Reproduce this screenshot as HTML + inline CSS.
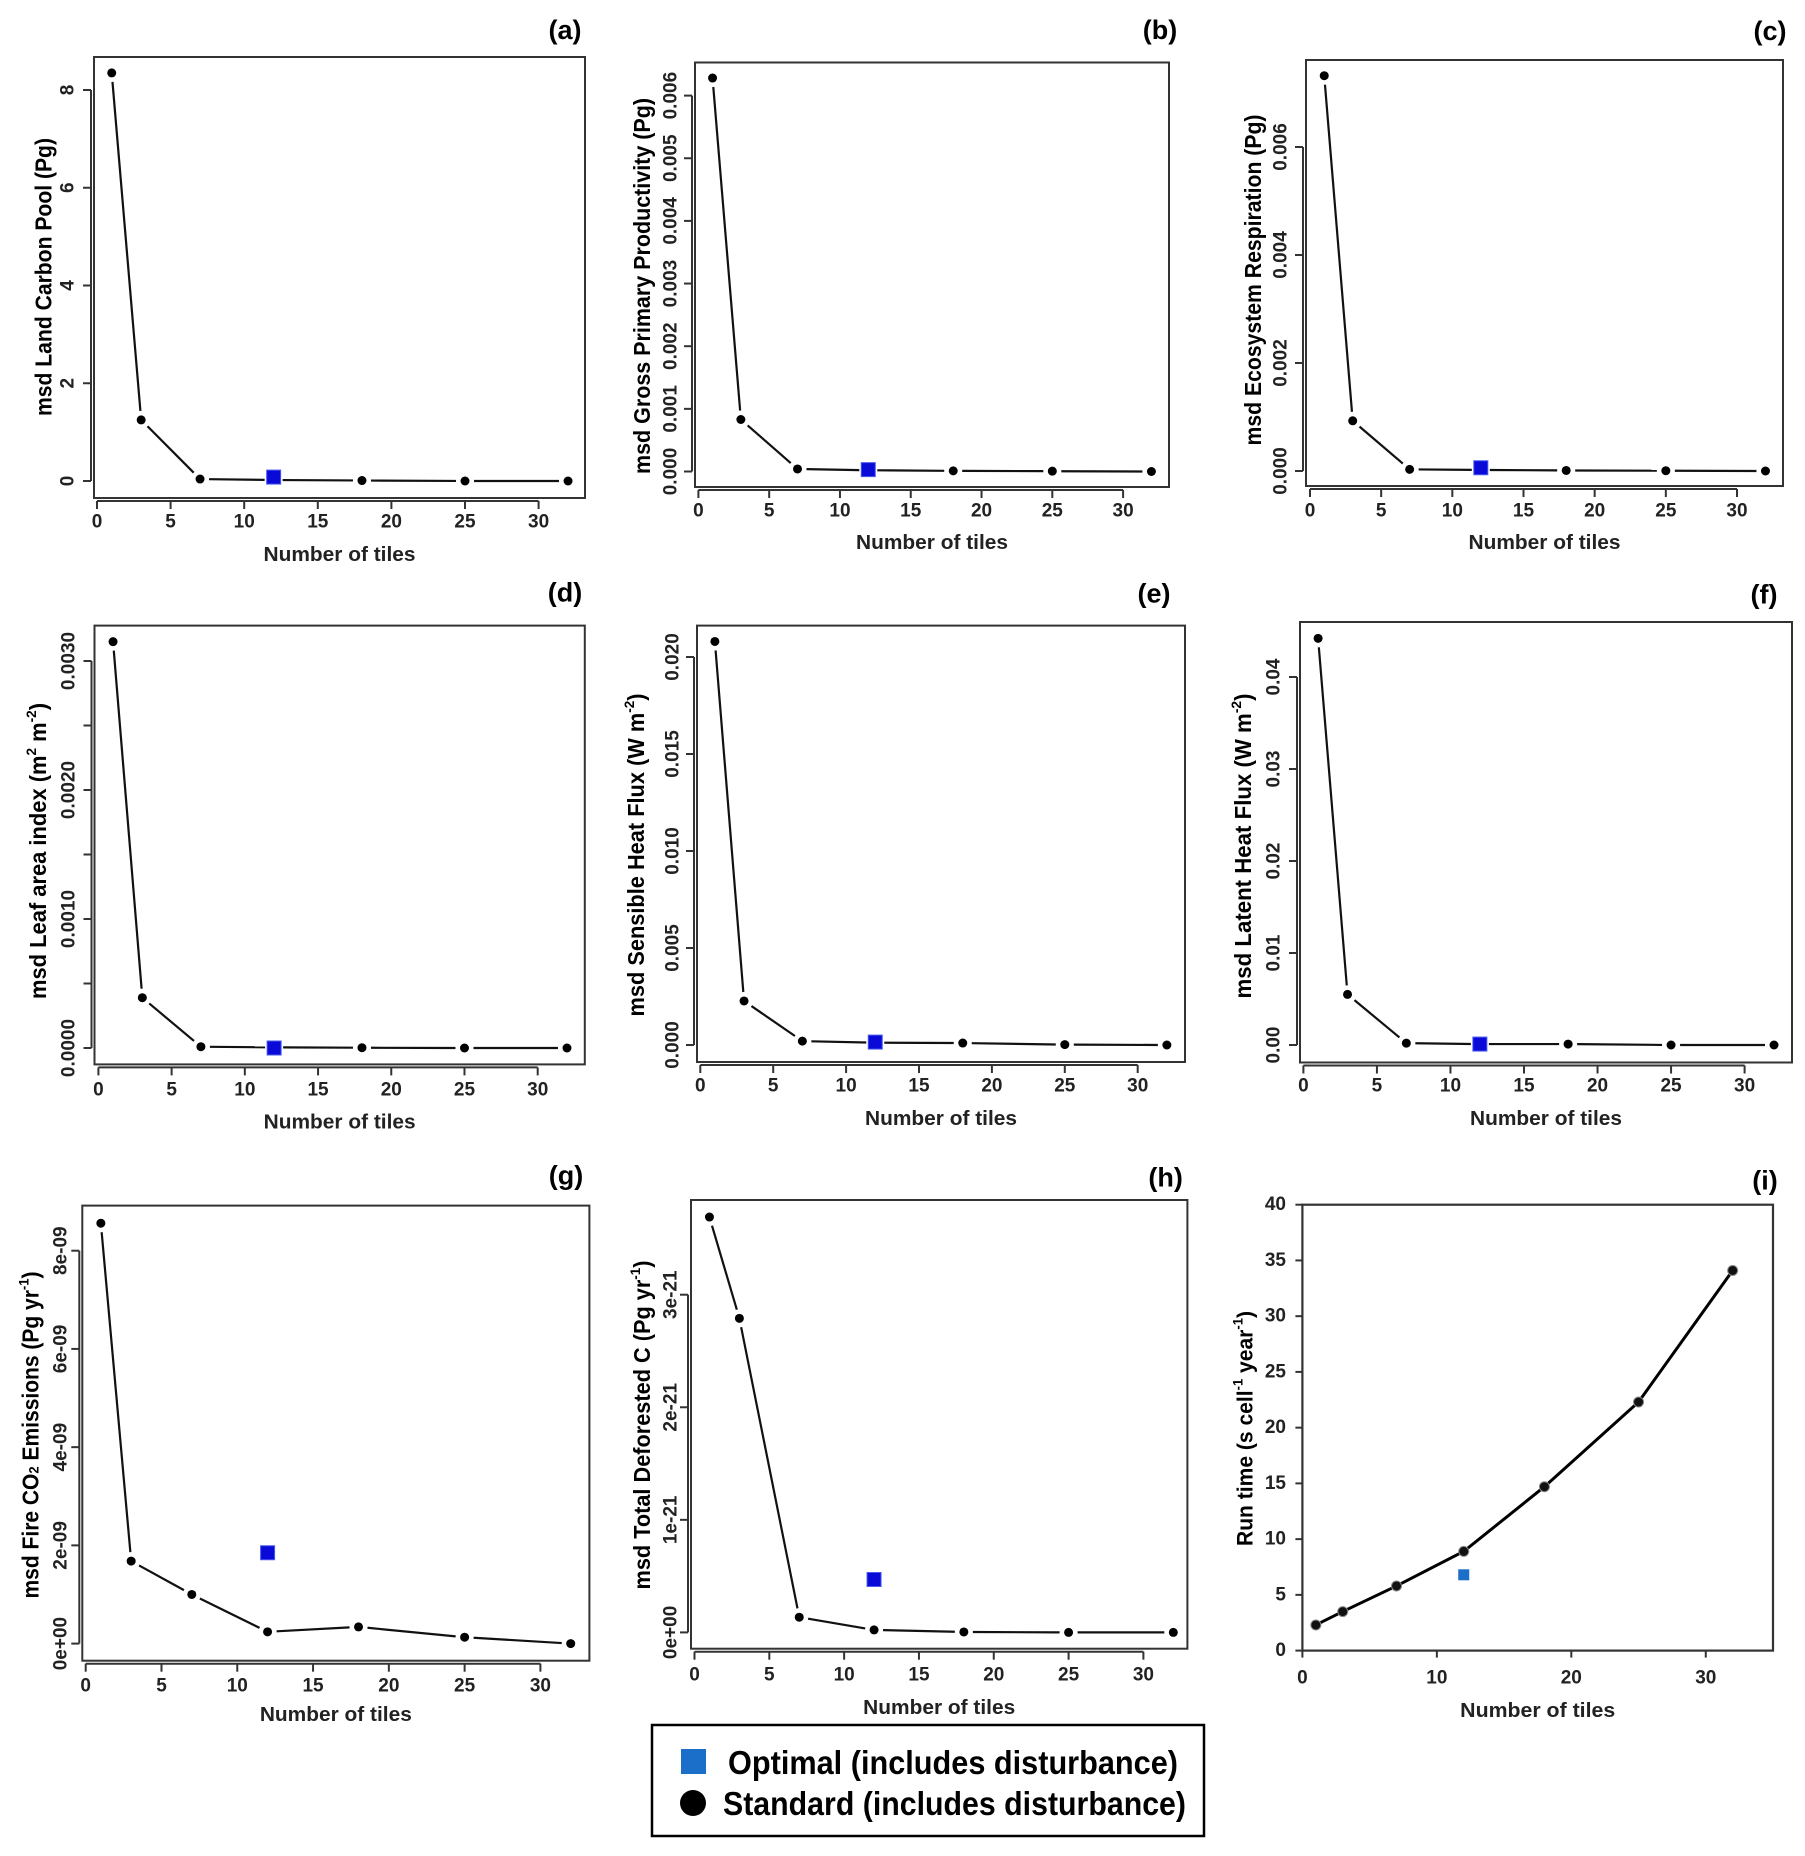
<!DOCTYPE html>
<html><head><meta charset="utf-8">
<style>
html,body{margin:0;padding:0;background:#fff;}
svg{display:block;font-family:"Liberation Sans",sans-serif;}
</style></head>
<body>
<svg id="fig" width="1805" height="1856" viewBox="0 0 1805 1856" xmlns="http://www.w3.org/2000/svg">
  <g id="legend">
    <rect x="652" y="1725" width="552" height="111" fill="#fff" stroke="#000" stroke-width="2.5"/>
    <rect x="681" y="1749" width="25" height="25" fill="#1b6fc8"/>
    <text x="728" y="1774" font-size="33" font-weight="bold" textLength="450" lengthAdjust="spacingAndGlyphs">Optimal (includes disturbance)</text>
    <circle cx="693" cy="1803" r="13" fill="#000"/>
    <text x="723" y="1815" font-size="33" font-weight="bold" textLength="463" lengthAdjust="spacingAndGlyphs">Standard (includes disturbance)</text>
  </g>
</svg>
<script>
// ---- data (x = number of tiles) ----
const tiles = [1, 3, 7, 12, 18, 25, 32];
const optTile = 12;
const aStd = [8.35, 1.25, 0.04, 0.02, 0.01, 0.0, 0.0];
const aOpt = 0.08;
const bStd = [6.28, 0.83, 0.04, 0.02, 0.01, 0.005, 0.0];   // x 1e-3
const bOpt = 0.03;
const cStd = [7.32, 0.93, 0.03, 0.02, 0.01, 0.005, 0.0];   // x 1e-3
const cOpt = 0.06;
const dStd = [31.5, 3.9, 0.1, 0.05, 0.02, 0.0, 0.0];       // x 1e-4
const dOpt = 0.0;
const eStd = [20.8, 2.27, 0.2, 0.12, 0.1, 0.02, 0.0];      // x 1e-3
const eOpt = 0.15;
const fStd = [4.42, 0.55, 0.02, 0.01, 0.01, 0.0, 0.0];     // x 1e-2
const fOpt = 0.01;
const gStd = [8.56, 1.68, 1.0, 0.24, 0.34, 0.13, 0.0];     // x 1e-9
const gOpt = 1.85;
const hStd = [3.69, 2.79, 0.135, 0.022, 0.004, 0.0, 0.0];  // x 1e-21
const hOpt = 0.47;
const iStd = [2.3, 3.5, 5.8, 8.9, 14.7, 22.3, 34.1];
const iOpt = 6.8;
// ---- tick values / labels ----
const xTicksR = [0, 5, 10, 15, 20, 25, 30];
const aTicks = [0, 2, 4, 6, 8];        const aLabels = ["0","2","4","6","8"];
const bTicks = [0,1,2,3,4,5,6];        const bLabels = ["0.000","0.001","0.002","0.003","0.004","0.005","0.006"];
const cTicks = [0,2,4,6];              const cLabels = ["0.000","0.002","0.004","0.006"];
const dTicks = [0,5,10,15,20,25,30];   const dLabels = ["0.0000","","0.0010","","0.0020","","0.0030"];
const eTicks = [0,5,10,15,20];         const eLabels = ["0.000","0.005","0.010","0.015","0.020"];
const fTicks = [0,1,2,3,4];            const fLabels = ["0.00","0.01","0.02","0.03","0.04"];
const gTicks = [0,2,4,6,8];            const gLabels = ["0e+00","2e-09","4e-09","6e-09","8e-09"];
const hTicks = [0,1,2,3];              const hLabels = ["0e+00","1e-21","2e-21","3e-21"];
const iYTicks = [0,5,10,15,20,25,30,35,40];
const iXTicks = [0,10,20,30];

const NS = "http://www.w3.org/2000/svg";
const svg = document.getElementById("fig");
function mk(tag, attrs, parent) {
  const el = document.createElementNS(NS, tag);
  for (const k in attrs) el.setAttribute(k, attrs[k]);
  (parent || svg).appendChild(el);
  return el;
}

const panels = [
 {id:"a", std:aStd, opt:aOpt, ticks:aTicks, labels:aLabels,
  box:[94,57,585,498], x0:97, x30:538.6, y0:481, yT:8, yTpx:90,
  ylabX:43.5, ylabY:277, ylabLen:278, tickLabX:68, tickLabY:522, xlabY:555,
  title:[565,30], ylab:["msd Land Carbon Pool (Pg)"]},
 {id:"b", std:bStd, opt:bOpt, ticks:bTicks, labels:bLabels,
  box:[695,62.5,1169,487], x0:698.4, x30:1123.1, y0:471.5, yT:6, yTpx:95.6,
  ylabX:642, ylabY:286, ylabLen:376, tickLabX:671, tickLabY:511, xlabY:543,
  title:[1160,30], ylab:["msd Gross Primary Productivity (Pg)"]},
 {id:"c", std:cStd, opt:cOpt, ticks:cTicks, labels:cLabels,
  box:[1306,60,1783,486], x0:1310, x30:1737, y0:471, yT:6, yTpx:147,
  ylabX:1253, ylabY:280, ylabLen:331, tickLabX:1281, tickLabY:511, xlabY:543,
  title:[1770,31], ylab:["msd Ecosystem Respiration (Pg)"]},
 {id:"d", std:dStd, opt:dOpt, ticks:dTicks, labels:dLabels,
  box:[94.5,625.6,584.8,1064.4], x0:98.4, x30:537.7, y0:1048, yT:30, yTpx:661,
  ylabX:38, ylabY:851, ylabLen:296, tickLabX:69, tickLabY:1090, xlabY:1122.5,
  title:[565,592.5], ylab:["msd Leaf area index (m","2"," m","-2",")"]},
 {id:"e", std:eStd, opt:eOpt, ticks:eTicks, labels:eLabels,
  box:[697,625.6,1185,1062], x0:700.3, x30:1137.7, y0:1045, yT:20, yTpx:657,
  ylabX:636, ylabY:855, ylabLen:323, tickLabX:673, tickLabY:1086, xlabY:1119,
  title:[1154,593.6], ylab:["msd Sensible Heat Flux (W m","-2",")"]},
 {id:"f", std:fStd, opt:fOpt, ticks:fTicks, labels:fLabels,
  box:[1300,622,1792,1062.5], x0:1303.4, x30:1744.6, y0:1045, yT:4, yTpx:677,
  ylabX:1243, ylabY:846, ylabLen:305, tickLabX:1274, tickLabY:1086, xlabY:1119,
  title:[1764,594.7], ylab:["msd Latent Heat Flux (W m","-2",")"]},
 {id:"g", std:gStd, opt:gOpt, ticks:gTicks, labels:gLabels,
  box:[82.3,1205.6,589.4,1660.7], x0:85.7, x30:540.4, y0:1643.6, yT:8, yTpx:1250.7,
  ylabX:30.6, ylabY:1435, ylabLen:327, tickLabX:61, tickLabY:1686, xlabY:1715,
  title:[566,1175.4], ylab:["msd Fire CO","2"," Emissions (Pg yr","-1",")"], subIdx:1},
 {id:"h", std:hStd, opt:hOpt, ticks:hTicks, labels:hLabels,
  box:[691,1200,1187.4,1648.7], x0:694.5, x30:1143.4, y0:1632.4, yT:3, yTpx:1294.7,
  ylabX:642, ylabY:1425, ylabLen:329, tickLabX:671, tickLabY:1675, xlabY:1708,
  title:[1165.6,1177.3], ylab:["msd Total Deforested C (Pg yr","-1",")"]}
];

function addYLabel(g, p, x, y, len, parts, subIdx, fs) {
  const t = mk("text", {x:x, y:y, "font-size":fs, "font-weight":"bold", "text-anchor":"middle",
    "dominant-baseline":"central", transform:"rotate(-90 "+x+" "+y+")",
    textLength:len, lengthAdjust:"spacingAndGlyphs"}, g);
  
  
  parts.forEach((s, i) => {
    const ts = mk("tspan", {}, t);
    if (i % 2 === 1) {
      ts.setAttribute("font-size", fs * 0.62);
      ts.setAttribute("baseline-shift", i === subIdx ? "-25%" : "45%");
    }
    ts.textContent = s;
  });
}

panels.forEach(p => {
  const g = mk("g", {});
  
  
  const [L, T, R, B] = p.box;
  const sx = v => p.x0 + (v / 30) * (p.x30 - p.x0);
  const sy = v => p.y0 + (v / p.yT) * (p.yTpx - p.y0);
  const box = mk("rect", {x:L, y:T, width:R-L, height:B-T, fill:"none", stroke:"#333", "stroke-width":2}, g);
  
  
  const xa = mk("line", {x1:sx(0), x2:sx(30), y1:B+3, y2:B+3, stroke:"#333", "stroke-width":2}, g);
  
  
  xTicksR.forEach(v => {
    mk("line", {x1:sx(v), x2:sx(v), y1:B+3, y2:B+11, stroke:"#333", "stroke-width":2}, g);
    const tl = mk("text", {x:sx(v), y:p.tickLabY, "font-size":19, "font-weight":"bold", "text-anchor":"middle", "dominant-baseline":"central", fill:"#222"}, g);
    
    
    tl.textContent = v;
  });
  const y0 = sy(p.ticks[0]), y1 = sy(p.ticks[p.ticks.length-1]);
  const ya = mk("line", {x1:L-3, x2:L-3, y1:y0, y2:y1, stroke:"#333", "stroke-width":2}, g);
  
  
  p.ticks.forEach((v, i) => {
    mk("line", {x1:L-3, x2:L-11, y1:sy(v), y2:sy(v), stroke:"#333", "stroke-width":2}, g);
    if (p.labels[i]) {
      const tl = mk("text", {x:p.tickLabX, y:sy(v), "font-size":19, "font-weight":"bold", "text-anchor":"middle", "dominant-baseline":"central", fill:"#222", transform:"rotate(-90 "+p.tickLabX+" "+sy(v)+")"}, g);
      
      
      tl.textContent = p.labels[i];
    }
  });
  for (let i = 0; i < tiles.length - 1; i++) {
    const xa1 = sx(tiles[i]), ya1 = sy(p.std[i]), xb = sx(tiles[i+1]), yb = sy(p.std[i+1]);
    const dx = xb - xa1, dy = yb - ya1, d = Math.hypot(dx, dy), gap = 9;
    if (d <= 2 * gap) continue;
    const seg = mk("line", {x1:xa1 + dx*gap/d, y1:ya1 + dy*gap/d, x2:xb - dx*gap/d, y2:yb - dy*gap/d, stroke:"#111", "stroke-width":2.2}, g);
    
    
  }
  tiles.forEach((t, i) => {
    const c = mk("circle", {cx:sx(t), cy:sy(p.std[i]), r:4.5, fill:"#000"}, g);
    
    
  });
  const sq = mk("rect", {x:sx(optTile)-7, y:sy(p.opt)-7, width:14, height:14, fill:"#0a0ad8", stroke:"#4a5af0", "stroke-width":1}, g);
  
  
  const xl = mk("text", {x:(L+R)/2, y:p.xlabY, "font-size":20, "font-weight":"bold", "text-anchor":"middle", "dominant-baseline":"central", textLength:152, lengthAdjust:"spacingAndGlyphs", fill:"#222"}, g);
  
  
  xl.textContent = "Number of tiles";
  addYLabel(g, p, p.ylabX, p.ylabY, p.ylabLen, p.ylab, p.subIdx, 23);
  const ti = mk("text", {x:p.title[0], y:p.title[1], "font-size":27, "font-weight":"bold", "text-anchor":"middle", "dominant-baseline":"central"}, g);
  
  
  ti.textContent = "(" + p.id + ")";
});

(function(){
  const g = mk("g", {});
  
  
  const L = 1302.4, R = 1773, T = 1204.7, B = 1650.6;
  const sx = v => L + (v / 35) * (R - L);
  const sy = v => B - (v / 40) * (B - T);
  const box = mk("rect", {x:L, y:T, width:R-L, height:B-T, fill:"none", stroke:"#333", "stroke-width":2.2}, g);
  
  
  iYTicks.forEach(v => {
    mk("line", {x1:L-7, x2:L, y1:sy(v), y2:sy(v), stroke:"#333", "stroke-width":2}, g);
    const tl = mk("text", {x:1286, y:sy(v), "font-size":19, "font-weight":"bold", "text-anchor":"end", "dominant-baseline":"central", fill:"#222"}, g);
    
    
    tl.textContent = v;
  });
  iXTicks.forEach(v => {
    mk("line", {x1:sx(v), x2:sx(v), y1:B, y2:B+7, stroke:"#333", "stroke-width":2}, g);
    const tl = mk("text", {x:sx(v), y:1678, "font-size":19, "font-weight":"bold", "text-anchor":"middle", "dominant-baseline":"central", fill:"#222"}, g);
    
    
    tl.textContent = v;
  });
  const pts = tiles.map((t, i) => sx(t) + "," + sy(iStd[i])).join(" ");
  const pl = mk("polyline", {points:pts, fill:"none", stroke:"#000", "stroke-width":3}, g);
  
  
  tiles.forEach((t, i) => {
    const c = mk("circle", {cx:sx(t), cy:sy(iStd[i]), r:5, fill:"#111", stroke:"#888", "stroke-width":1}, g);
    
    
  });
  const sq = mk("rect", {x:sx(optTile)-5.5, y:sy(iOpt)-5.5, width:11, height:11, fill:"#1b6fc8"}, g);
  
  
  const xl = mk("text", {x:(L+R)/2, y:1711, "font-size":20, "font-weight":"bold", "text-anchor":"middle", "dominant-baseline":"central", textLength:155, lengthAdjust:"spacingAndGlyphs", fill:"#222"}, g);
  
  
  xl.textContent = "Number of tiles";
  addYLabel(g, null, 1244.4, 1428.5, 235, ["Run time (s cell","-1"," year","-1",")"], -1, 22);
  const ti = mk("text", {x:1765, y:1180.6, "font-size":27, "font-weight":"bold", "text-anchor":"middle", "dominant-baseline":"central"}, g);
  
  
  ti.textContent = "(i)";
})();
</script>
</body></html>
